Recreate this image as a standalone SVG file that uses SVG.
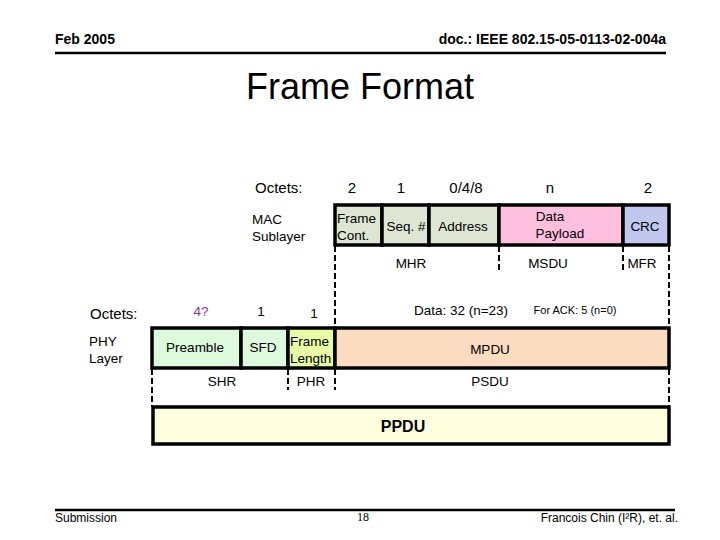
<svg xmlns="http://www.w3.org/2000/svg" width="720" height="540" viewBox="0 0 720 540">
<style>
text{font-family:"Liberation Sans",Arial,sans-serif;fill:#000}
.hdr{font-size:14px;font-weight:bold}
.lbl{font-size:15px}
.sm{font-size:13.5px}
.xs{font-size:11px}
.mid{text-anchor:middle}
.end{text-anchor:end}
.box{stroke:#000;stroke-width:3.5}
.dash{stroke:#000;stroke-width:2;stroke-dasharray:6,3;fill:none}
.rule{stroke:#000;stroke-width:2.5}
</style>
<rect width="720" height="540" fill="#fff"/>
<g id="header">
<text class="hdr" x="55" y="44">Feb 2005</text>
<text class="hdr end" x="666" y="44">doc.: IEEE 802.15-05-0113-02-004a</text>
<line class="rule" x1="55" y1="53" x2="666" y2="53"/>
</g>
<text id="title" x="360" y="99" class="mid" style="font-size:36px">Frame Format</text>
<g id="connectors">
<line class="dash" x1="335" y1="246" x2="335" y2="327"/>
<line class="dash" x1="499" y1="246" x2="499" y2="272"/>
<line class="dash" x1="623" y1="246" x2="623" y2="272"/>
<line class="dash" x1="669" y1="246" x2="669" y2="327"/>
<line class="dash" x1="152" y1="369" x2="152" y2="407"/>
<line class="dash" x1="288" y1="369" x2="288" y2="390"/>
<line class="dash" x1="335" y1="369" x2="335" y2="390"/>
<line class="dash" x1="669" y1="369" x2="669" y2="407"/>
</g>
<g id="mac-labels">
<text class="lbl" x="255" y="193">Octets:</text>
<text class="lbl mid" x="352" y="193">2</text>
<text class="lbl mid" x="401" y="193">1</text>
<text class="lbl mid" x="466" y="193">0/4/8</text>
<text class="lbl mid" x="550" y="193">n</text>
<text class="lbl mid" x="648" y="193">2</text>
<text class="sm" x="252" y="224">MAC</text>
<text class="sm" x="252" y="241">Sublayer</text>
<text class="sm mid" x="411" y="268">MHR</text>
<text class="sm mid" x="548" y="268">MSDU</text>
<text class="sm mid" x="642" y="268">MFR</text>
</g>
<g id="frame-cont">
<rect class="box" x="335" y="205" width="47" height="40" fill="#DDE5D3"/>
<text class="sm" x="337" y="223">Frame</text>
<text class="sm" x="337" y="240">Cont.</text>
</g>
<g id="seq">
<rect class="box" x="382" y="205" width="47" height="40" fill="#DDE5D3"/>
<text class="sm mid" x="406" y="231">Seq. #</text>
</g>
<g id="address">
<rect class="box" x="429" y="205" width="70" height="40" fill="#DDE5D3"/>
<text class="sm mid" x="463" y="231">Address</text>
</g>
<g id="payload">
<rect class="box" x="499" y="205" width="124" height="40" fill="#FFC0E0"/>
<text class="sm mid" x="550" y="221">Data</text>
<text class="sm mid" x="560" y="238">Payload</text>
</g>
<g id="crc">
<rect class="box" x="623" y="205" width="46" height="40" fill="#C0C8F0"/>
<text class="sm mid" x="645" y="231">CRC</text>
</g>
<g id="phy-labels">
<text class="lbl" x="90" y="319">Octets:</text>
<text class="sm mid" x="201" y="316" style="fill:#903090">4?</text>
<text class="sm mid" x="261" y="316">1</text>
<text class="sm mid" x="314" y="318">1</text>
<text class="sm" x="89" y="346">PHY</text>
<text class="sm" x="89" y="363">Layer</text>
<text class="sm mid" x="222" y="386">SHR</text>
<text class="sm mid" x="311" y="386">PHR</text>
<text class="sm mid" x="490" y="386">PSDU</text>
<text class="sm mid" x="461" y="315">Data: 32 (n=23)</text>
<text class="xs mid" x="575" y="314">For ACK: 5 (n=0)</text>
</g>
<g id="preamble">
<rect class="box" x="152" y="328" width="89" height="40" fill="#DDFADD"/>
<text class="sm mid" x="195" y="352">Preamble</text>
</g>
<g id="sfd">
<rect class="box" x="241" y="328" width="47" height="40" fill="#DDFADD"/>
<text class="sm mid" x="263" y="352">SFD</text>
</g>
<g id="frame-length">
<rect class="box" x="288" y="328" width="47" height="40" fill="#E8FCA8"/>
<text class="sm" x="290" y="346">Frame</text>
<text class="sm" x="290" y="363">Length</text>
</g>
<g id="mpdu">
<rect class="box" x="335" y="328" width="334" height="40" fill="#FCDCC0"/>
<text class="sm mid" x="490" y="354">MPDU</text>
</g>
<g id="ppdu">
<rect class="box" x="153" y="407" width="516" height="37" fill="#FFFFE0"/>
<text x="403" y="432" class="mid" style="font-size:16px;font-weight:bold">PPDU</text>
</g>
<g id="footer">
<line class="rule" x1="55" y1="510" x2="675" y2="510"/>
<text x="55" y="522" style="font-size:12px">Submission</text>
<text x="363" y="521" class="mid" style="font-size:12px;font-family:'Liberation Serif',serif">18</text>
<text x="678" y="522" class="end" style="font-size:12px">Francois Chin (I²R), et. al.</text>
</g>
</svg>
